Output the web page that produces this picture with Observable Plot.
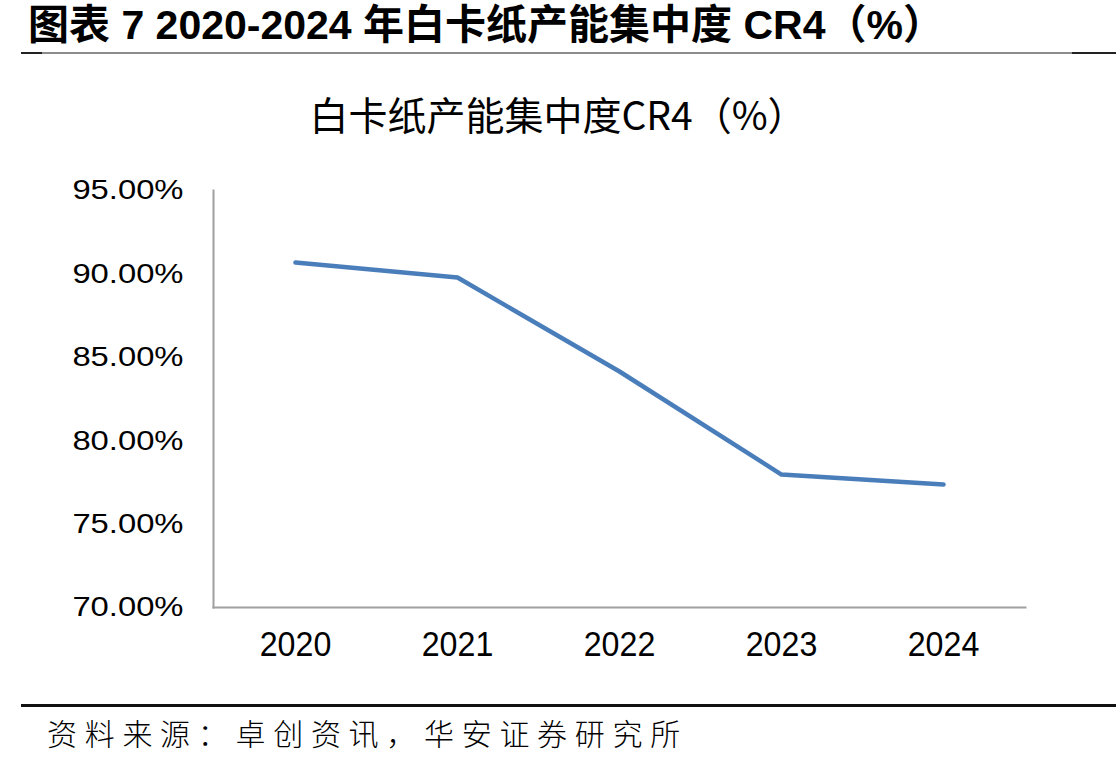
<!DOCTYPE html>
<html>
<head>
<meta charset="utf-8">
<script src="https://cdn.jsdelivr.net/npm/d3@7"></script>
<script src="https://cdn.jsdelivr.net/npm/@observablehq/plot@0.6"></script>
<style>
  html, body { margin: 0; padding: 0; background: #fff; }
  #page { position: relative; width: 1116px; height: 764px; overflow: hidden; background: #fff; }
  #fig-title {
    position: absolute; left: 28px; top: 5px; white-space: nowrap; line-height: 40px;
    font-family: "Liberation Sans", "Noto Sans CJK SC", sans-serif;
    font-weight: bold; font-size: 41px; color: #000;
  }
  .rule { position: absolute; }
  #chart-title {
    position: absolute; left: 0; width: 1116px; top: 94px; line-height: 38px; text-align: center;
    font-family: "Noto Sans CJK SC", sans-serif; font-size: 39px; color: #000; white-space: nowrap;
  }
  #chart { position: absolute; left: 0; top: 160px; }
  #source {
    position: absolute; left: 47px; top: 714px; line-height: 36px; white-space: nowrap;
    font-family: "Noto Sans CJK SC", sans-serif; font-weight: 300; font-size: 30px;
    letter-spacing: 7.7px; color: #000;
  }
</style>
</head>
<body>
<div id="page">
  <div id="fig-title">图表 7 2020-2024 年白卡纸产能集中度 CR4（%）</div>
  <div class="rule" style="left:21px;top:52px;width:1095px;height:2px;background:#8c8c8c"></div>
  <div class="rule" style="left:21px;top:52px;width:21px;height:2px;background:#222"></div>
  <div class="rule" style="left:1072px;top:52px;width:44px;height:2px;background:#222"></div>
  <div id="chart-title">白卡纸产能集中度CR4（%）</div>
  <div id="chart"></div>
  <div class="rule" style="left:21px;top:704px;width:1095px;height:3px;background:#111"></div>
  <div id="source">资料来源：卓创资讯，华安证券研究所</div>
</div>
<script>
// White cardboard capacity concentration, top-4 share (%)
const years = ["2020", "2021", "2022", "2023", "2024"];
const cr4 = [90.68, 89.78, 84.15, 77.97, 77.37];
const yTicks = [70, 75, 80, 85, 90, 95];

const data = years.map((year, i) => ({year, value: cr4[i]}));

const axisColor = "#a0a0a0";

const svg = Plot.plot({
  width: 1116,
  height: 520,
  marginTop: 30,
  marginBottom: 73,
  marginLeft: 213,
  marginRight: 91,
  style: {fontFamily: "'Liberation Sans', Arial, sans-serif", fontSize: "27px", color: "#000", background: "#fff"},
  x: {type: "point", domain: years, padding: 0.5, label: null},
  y: {domain: [70, 95], label: null},
  marks: [
    Plot.frame({anchor: "left", stroke: axisColor, strokeWidth: 2}),
    Plot.frame({anchor: "bottom", stroke: axisColor, strokeWidth: 2}),
    Plot.axisY(yTicks, {tickSize: 0, tickPadding: 30, tickFormat: d => d.toFixed(2) + "%", fontSize: 28, fill: "#000"}),
    Plot.axisX({tickSize: 0, tickPadding: 24, fontSize: 35, fill: "#000"}),
    Plot.line(data, {x: "year", y: "value", stroke: "#4a7ebb", strokeWidth: 4.5, strokeLinecap: "round", strokeLinejoin: "round"})
  ]
});

document.getElementById("chart").appendChild(svg);

// widen the percentage labels slightly
svg.querySelectorAll("g[aria-label='y-axis tick label'] text").forEach(t => {
  const tr = t.getAttribute("transform") || "";
  t.setAttribute("transform", tr + " scale(1.17,1)");
});
// and narrow the year labels a touch
svg.querySelectorAll("g[aria-label='x-axis tick label'] text").forEach(t => {
  const tr = t.getAttribute("transform") || "";
  t.setAttribute("transform", tr + " scale(0.92,1)");
});
</script>
</body>
</html>
